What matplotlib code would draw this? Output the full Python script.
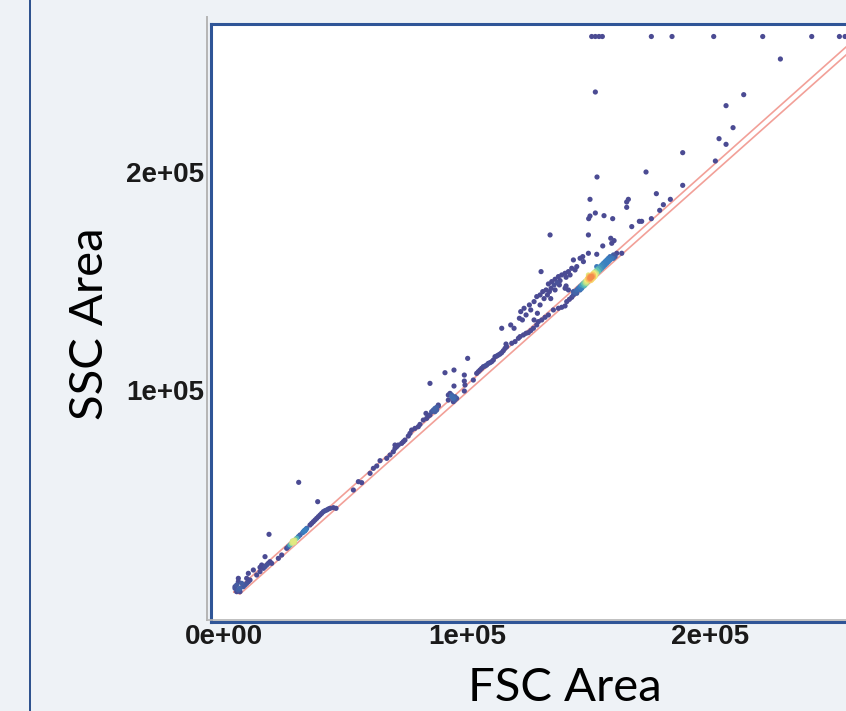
import matplotlib.pyplot as plt
import numpy as np
from matplotlib.colors import LinearSegmentedColormap
from matplotlib.lines import Line2D

# events: (FSC Area, SSC Area)
saturated_fsc = [151298, 152807, 154316, 155688, 175857, 184363, 201513,
                 221682, 241850, 253238, 255570]
saturated_ssc = [262143] * len(saturated_fsc)

high_outliers = [
    (228953, 251827), (152807, 236690), (213861, 235466), (206590, 230421),
    (209471, 220329), (203708, 215284), (206590, 212684), (188754, 208862),
    (202199, 205039), (153493, 197700), (173662, 199994), (188754, 193878),
    (177915, 190055), (150612, 187456), (166390, 187456), (165704, 186233),
    (183677, 187456), (180796, 185009), (165704, 183786), (179287, 182410),
    (150063, 178588), (150612, 179811), (152807, 181187), (156374, 179964),
    (159942, 178588), (170918, 177364), (171878, 177364), (175857, 178588),
    (167790, 174942), (134176, 171119), (149954, 171119), (159146, 169590),
    (160518, 168520), (159558, 167297), (155854, 166074), (149954, 162710),
    (153384, 162251), (146524, 160416), (143780, 159652), (147896, 158887),
    (147622, 161181), (130472, 154300),
]

off_cluster = [
    (143094, 155829), (144466, 155065), (145152, 156594), (141722, 154300),
    (140350, 153536), (138978, 152771), (142408, 152771), (137606, 152007),
    (140762, 151701), (136234, 150784), (138292, 150172), (134862, 149713),
    (137194, 149255), (133490, 148643), (135822, 148184), (138018, 148184),
    (134588, 146655), (132530, 145891), (133902, 145126), (136234, 145891),
    (131158, 145126), (130060, 143597), (133078, 143597), (128688, 142833),
    (131706, 141916), (134450, 141916), (127590, 140539), (125670, 139010),
    (130060, 139010), (123474, 137481), (126218, 136717), (122102, 135952),
    (128962, 135188), (124298, 134423), (121554, 132894), (122788, 132130),
    (127590, 132130), (117986, 129836), (119358, 128307), (114282, 128307),
    (140350, 146655), (141722, 145891), (140762, 147726),
    (133490, 134423), (135548, 136717), (137606, 137481), (138978, 137940),
    (140350, 138552),
]

main_core = [
    (143094, 142527), (143780, 143597), (144466, 144668), (145152, 145891),
    (145838, 146655), (146524, 147420), (147210, 148184), (147896, 148949),
    (148582, 149713), (149268, 150478), (149954, 151242), (150640, 152007),
    (151326, 152771), (152012, 153536), (152698, 154300), (153384, 155065),
    (154070, 155829), (154756, 156594), (155442, 157358), (156128, 158123),
    (156814, 158887), (157500, 159652), (158186, 160416), (158872, 161181),
    (160244, 161945), (161616, 162710), (163674, 162710),
    (143780, 145126), (145152, 144362), (146524, 145891), (147210, 146655),
    (148582, 148184), (149268, 148949), (150640, 150478), (149954, 152771),
    (152012, 152007), (151326, 150478), (152698, 152771), (153384, 153536),
    (154070, 154300), (154756, 155065), (153384, 156594), (155442, 155829),
    (156128, 156594), (156814, 157358), (157500, 158123), (158186, 158887),
    (158872, 159652), (159558, 160416), (160244, 160416), (160930, 161181),
    (149268, 149713), (149954, 150478), (150640, 151242), (151326, 152007),
    (152012, 152771), (150640, 150784), (151326, 151701), (149954, 151701),
    (152012, 151242), (152698, 152007), (150366, 152313), (150914, 150172),
    (148994, 149255), (149542, 151090), (151738, 153230), (152286, 153842),
    (153110, 153230), (148582, 148949), (148170, 147726),
    (150900, 151500), (151100, 151900), (150500, 151300), (151500, 152300),
]

upper_band = [
    (118398, 121427), (119770, 122191), (121142, 123720), (121828, 124485),
    (123200, 125249), (124298, 126014), (125258, 126320), (126218, 127237),
    (127316, 128307), (128688, 129836), (129374, 131365), (130746, 132130),
    (132118, 133353), (141036, 140539), (142134, 141610),
    (69668, 71691), (70354, 73220), (71040, 73985), (71726, 74749),
    (73098, 75514), (73784, 76278), (74470, 77043), (70354, 74749),
    (75842, 78878), (76528, 80101), (77214, 81630), (78586, 82394),
    (79958, 83159), (80644, 84229), (82016, 86217), (83388, 86981),
    (84074, 88052), (83114, 89275), (84760, 88510), (85446, 90039),
    (86132, 90804), (86818, 91568), (87504, 92027), (88190, 92639),
    (87504, 90804), (86818, 90039), (88190, 93097), (84760, 103036),
    (90934, 107929), (94638, 109152), (92306, 97684), (92992, 98449),
    (93678, 96920), (94364, 96155), (95050, 95391), (93678, 97684),
    (94364, 94626), (95050, 96920), (95736, 96155), (92306, 95391),
    (94638, 101813), (98892, 106858), (98892, 104106), (98892, 99519),
    (100264, 114503), (99166, 102271), (102596, 104565), (103968, 107623),
    (104654, 108387), (105340, 109152), (106026, 109916), (106712, 110681),
    (107398, 110987), (108084, 111445), (108770, 112210), (109456, 112516),
    (110142, 112974), (110828, 113739), (111514, 115268), (112200, 115574),
    (112886, 116032), (113572, 116491), (114258, 117103), (114944, 118020),
    (115630, 119090), (116316, 119855), (116042, 121078),
]

lower_band = [
    (30735, 57642), (38556, 48773), (18524, 33789),
    (5216, 7490), (5902, 8255), (6588, 7490), (4530, 9784), (5216, 10548),
    (5902, 12077), (7274, 11313), (7960, 9784), (8646, 10548), (9332, 11313),
    (10018, 12077), (10704, 12842), (9332, 13606), (5902, 13606),
    (4530, 9019), (6588, 9019), (10018, 15900), (12076, 17429),
    (13448, 15135), (14820, 16664), (16192, 18193), (15506, 19722),
    (16878, 18958), (17564, 19722), (18250, 20487), (18936, 21251),
    (19622, 20487), (16878, 23545), (14820, 18652), (22366, 22780),
    (23738, 24309), (25796, 27367), (26482, 28132), (27168, 28896),
    (27854, 29661), (28540, 30425), (29226, 31190), (29912, 31954),
    (30598, 32719), (31284, 33483), (32656, 35012), (33342, 35777),
    (34028, 36541), (28266, 29967), (28814, 30884), (28128, 30731),
    (28952, 29967), (28500, 30300), (28700, 30500), (28400, 30600),
    (28600, 30200), (28800, 30400), (28550, 30350), (28650, 30450),
    (28450, 30250), (28750, 30550), (33068, 35471), (33754, 36083),
    (32382, 34554), (33400, 35600), (33200, 35300),
    (35400, 38070), (36086, 38835), (36772, 39599), (37458, 40364),
    (38144, 41128), (38830, 41893), (39516, 42657), (40202, 43422),
    (40888, 44186), (41574, 44645), (42260, 44951), (42946, 45410),
    (43632, 45715), (45004, 46021), (46102, 45715), (53236, 54125),
    (55294, 57947), (56666, 57489), (60096, 61770), (61468, 64063),
    (62840, 65134), (64212, 67580), (66956, 68650), (68328, 70179),
]

# polygon gate drawn on the plot
gate_fsc = [4115, 280000, 280000, 6584, 4115]
gate_ssc = [7339, 281198, 277503, 6422, 7339]

x_ticks = [0, 100000, 200000]
x_tick_labels = ['0e+00', '1e+05', '2e+05']
y_ticks = [100000, 200000]
y_tick_labels = ['1e+05', '2e+05']

bg = '#eef2f6'
frame_blue = '#2f5597'

events = np.array(high_outliers + off_cluster + main_core + upper_band + lower_band, float)
fsc = np.concatenate([saturated_fsc, events[:, 0]])
ssc = np.concatenate([saturated_ssc, events[:, 1]])

# local density in screen-like units for colouring
u = fsc * 243 / 1e5
v = ssc * 218 / 1e5
d2 = (u[:, None] - u[None, :]) ** 2 + (v[:, None] - v[None, :]) ** 2
dens = np.exp(-d2 / (2 * 4.0 ** 2)).sum(axis=1)
level = 0.82 * (dens - 1) / (dens.max() - 1)
order = np.argsort(level)

cmap = LinearSegmentedColormap.from_list(
    'flow', ['#4b4b93', '#4b4b93', '#3a7fc0', '#5fc3b4', '#b8e08e',
             '#f5ee7a', '#fbb55c', '#ef6a3f', '#d0303f'])

fig = plt.figure(figsize=(8.46, 7.11), dpi=100, facecolor=bg)
ax = fig.add_axes([211 / 846, 1 - 621.5 / 711, (880 - 211) / 846, (621.5 - 24) / 711])
ax.set_facecolor('white')

ax.scatter(fsc[order], ssc[order], c=level[order], cmap=cmap, vmin=0, vmax=1,
           s=14, linewidths=0, zorder=3)
ax.plot(gate_fsc, gate_ssc, color='#f2a098', lw=1.2, zorder=2)

ax.set_xlim(-5350, 269944)
ax.set_ylim(-6192, 267881)
ax.set_xticks(x_ticks, x_tick_labels)
ax.set_yticks(y_ticks, y_tick_labels)
ax.tick_params(length=0, labelsize=20, colors='#1a1a1a')
ax.tick_params(axis='x', pad=2)
ax.tick_params(axis='y', pad=5)
for lab in ax.get_xticklabels() + ax.get_yticklabels():
    lab.set_fontweight('bold')
    lab.set_fontfamily('Liberation Sans')
for sp in ax.spines.values():
    sp.set_color(frame_blue)
    sp.set_linewidth(2.2)

# grey frame behind the plot panel and the slide border on the left
fig.add_artist(Line2D([206.5 / 846, 206.5 / 846], [1 - 17 / 711, 1 - 620 / 711],
                      color='#b5b5b5', lw=1.4))
fig.add_artist(Line2D([206.5 / 846, 1], [1 - 619.5 / 711, 1 - 619.5 / 711],
                      color='#b5b5b5', lw=1.2))
fig.add_artist(Line2D([30 / 846, 30 / 846], [0, 1], color='#2a4f8c', lw=1.4))

fig.text(565 / 846, 1 - 701 / 711, 'FSC Area', ha='center', va='baseline',
         fontsize=34, family='Lato', color='black')
fig.text(90 / 846, 1 - 324 / 711, 'SSC Area', ha='center', va='center',
         rotation=90, fontsize=34, family='Lato', color='black')

fig.savefig('out.png', dpi=100, facecolor=bg)
